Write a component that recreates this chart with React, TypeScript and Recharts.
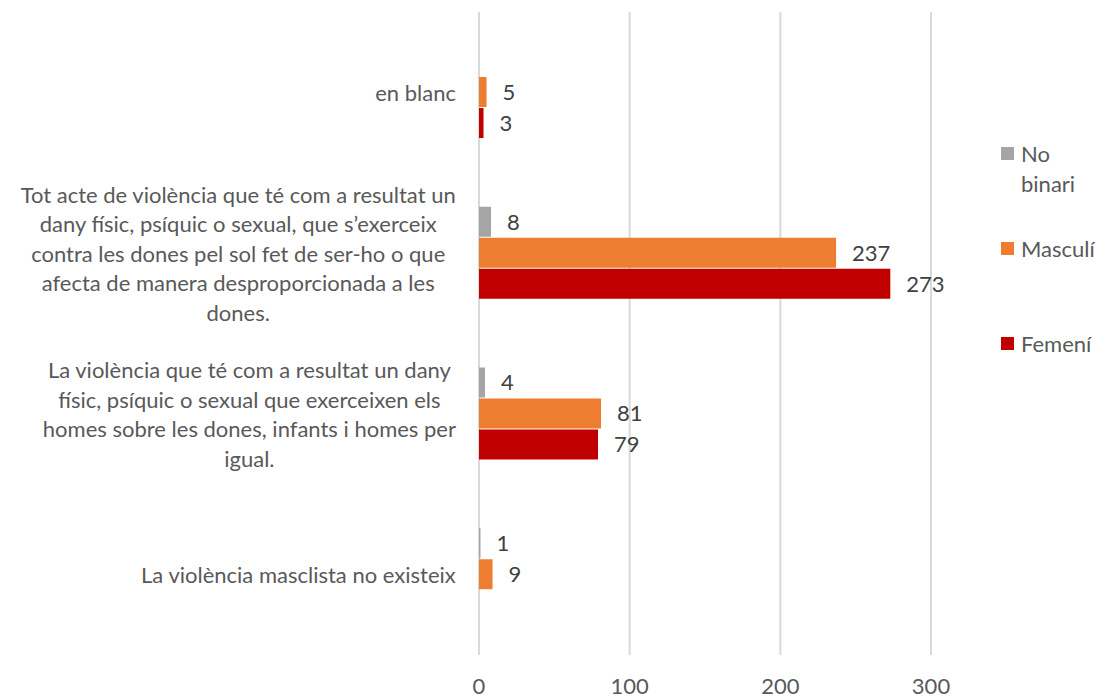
import React from 'react';
import { BarChart, Bar, XAxis, YAxis, CartesianGrid, Legend, LabelList } from 'recharts';

const FONT = 'Lato, "Open Sans", sans-serif';
const FONT_SIZE = 22;
const LINE_H = 29.5;
const TEXT = '#595959';

const categories = [
  'en blanc',
  'Tot acte de violència que té com a resultat un dany físic, psíquic o sexual, que s’exerceix contra les dones pel sol fet de ser-ho o que afecta de manera desproporcionada a les dones.',
  'La violència que té com a resultat un dany físic, psíquic o sexual que exerceixen els homes sobre les dones, infants i homes per igual.',
  'La violència masclista no existeix',
];

// wrapped lines of each category label, as in the picture
const categoryLines = [
  ['en blanc'],
  [
    'Tot acte de violència que té com a resultat un',
    'dany físic, psíquic o sexual, que s’exerceix',
    'contra les dones pel sol fet de ser-ho o que',
    'afecta de manera desproporcionada a les',
    'dones.',
  ],
  [
    'La violència que té com a resultat un dany',
    'físic, psíquic o sexual que exerceixen els',
    'homes sobre les dones, infants i homes per',
    'igual.',
  ],
  ['La violència masclista no existeix'],
];

const noBinari = [null, 8, 4, 1];
const masculi = [5, 237, 81, 9];
const femeni = [3, 273, 79, null];

const xTicks = [0, 100, 200, 300];

const series = [
  { key: 'noBinari', name: 'No binari', color: '#A5A5A5' },
  { key: 'masculi', name: 'Masculí', color: '#ED7D31' },
  { key: 'femeni', name: 'Femení', color: '#C00000' },
];

const data = categories.map((c, i) => ({
  category: c,
  noBinari: noBinari[i],
  masculi: masculi[i],
  femeni: femeni[i],
}));

let ctx: CanvasRenderingContext2D | null = null;
const measure = (s: string) => {
  if (!ctx) ctx = document.createElement('canvas').getContext('2d');
  if (!ctx) return s.length * FONT_SIZE * 0.5;
  ctx.font = `${FONT_SIZE}px ${FONT}`;
  return ctx.measureText(s).width;
};

const CategoryTick = ({ x, y, payload }: any) => {
  const idx = categories.indexOf(payload.value);
  const lines = categoryLines[idx] || [payload.value];
  const blockW = Math.max(...lines.map(measure));
  const cx = x - blockW / 2;
  const top = y - ((lines.length - 1) * LINE_H) / 2;
  return (
    <text textAnchor="middle" fill={TEXT} fontSize={FONT_SIZE} fontFamily={FONT}>
      {lines.map((l, i) => (
        <tspan key={i} x={cx} y={top + i * LINE_H} dominantBaseline="central">
          {l}
        </tspan>
      ))}
    </text>
  );
};

const ValueTick = ({ x, y, payload }: any) => (
  <text x={x} y={y + 22} textAnchor="middle" dominantBaseline="central" fill={TEXT} fontSize={FONT_SIZE} fontFamily={FONT}>
    {payload.value}
  </text>
);

const LegendBox = () => {
  const textW = measure('Masculí') + 4;
  return (
    <div style={{ fontFamily: FONT, fontSize: FONT_SIZE, color: TEXT, lineHeight: `${LINE_H}px` }}>
      {series.map((s) => (
        <div key={s.key} style={{ display: 'flex', alignItems: 'flex-start', height: 95 }}>
          <span style={{ width: 13, height: 13, background: s.color, marginTop: 8, marginRight: 7, flex: 'none' }} />
          <span style={{ width: textW }}>{s.name}</span>
        </div>
      ))}
    </div>
  );
};

export default function App() {
  return (
    <div style={{ position: 'absolute', left: 0, top: 0, background: '#fff' }}>
      <BarChart
        width={1106}
        height={698}
        data={data}
        layout="vertical"
        margin={{ top: 12, right: 175, bottom: 0, left: 0 }}
        barSize={30}
        barGap={1}
      >
        <CartesianGrid horizontal={false} stroke="#D9D9D9" strokeWidth={2} />
        <XAxis
          type="number"
          domain={[0, 300]}
          ticks={xTicks}
          height={43}
          axisLine={false}
          tickLine={false}
          tick={<ValueTick />}
        />
        <YAxis
          type="category"
          dataKey="category"
          width={479}
          axisLine={false}
          tickLine={false}
          tickMargin={17}
          tick={<CategoryTick />}
          interval={0}
        />
        <Legend
          layout="vertical"
          align="center"
          verticalAlign="middle"
          wrapperStyle={{ left: 1001, top: 139, width: 105 }}
          content={<LegendBox />}
        />
        {series.map((s) => (
          <Bar key={s.key} dataKey={s.key} name={s.name} fill={s.color} isAnimationActive={false}>
            <LabelList
              dataKey={s.key}
              position="right"
              offset={16}
              fill="#404040"
              fontSize={FONT_SIZE}
              fontFamily={FONT}
            />
          </Bar>
        ))}
      </BarChart>
    </div>
  );
}
